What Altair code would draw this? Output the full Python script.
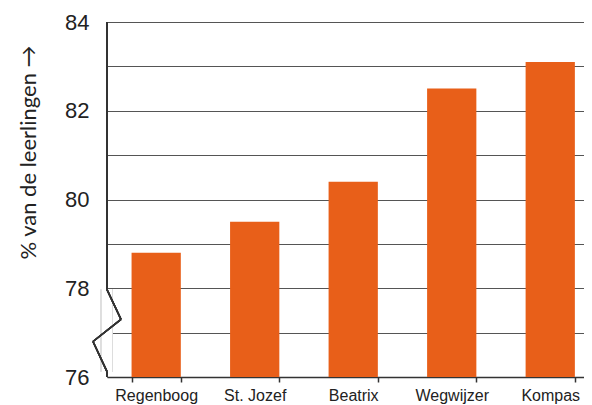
import altair as alt
import pandas as pd

schools = ["Regenboog", "St. Jozef", "Beatrix", "Wegwijzer", "Kompas"]
percentages = [78.8, 79.5, 80.4, 82.5, 83.1]
y_ticks = [76, 77, 78, 79, 80, 81, 82, 83, 84]

df = pd.DataFrame({"school": schools, "pct": percentages})

ORANGE = "#E85F19"
DARK = "#333333"

yscale = alt.Scale(domain=[76, 84], nice=False, zero=False)
xscale = alt.Scale(paddingInner=0.5, paddingOuter=0.171, align=0.729)

bars = alt.Chart(df).mark_bar(color=ORANGE, clip=True).encode(
    x=alt.X("school:N", sort=schools, scale=xscale,
            axis=alt.Axis(title=None, labelAngle=0, labelFont="Liberation Sans",
                          labelFontSize=16, labelColor="#222222", labelPadding=5,
                          domainColor=DARK, domainWidth=1.5, tickColor=DARK,
                          tickWidth=1.5, tickSize=5, tickBand="extent", grid=False)),
    y=alt.Y("pct:Q", scale=yscale,
            axis=alt.Axis(values=y_ticks, domain=False, ticks=False,
                          labelExpr="datum.value % 2 == 0 ? datum.label : ''",
                          labelFont="Liberation Sans", labelFontSize=22,
                          labelColor="#222222", labelPadding=18,
                          grid=True, gridColor="#555555", gridWidth=1,
                          title="% van de leerlingen \u2192", titleFont="Lato",
                          titleFontSize=22, titleFontWeight="normal",
                          titleColor="#222222", titleX=-79, titleY=130,
                          titleAngle=270, titleAlign="center",
                          titleBaseline="middle")),
)

base = alt.Chart(df)

# white mask over the broken part of the axis
mask = base.mark_rect(color="white").encode(
    x=alt.value(-6), x2=alt.value(5.5),
    y=alt.datum(77.97), y2=alt.datum(76.12),
)
mask_edges = [
    base.mark_rule(color="#dddddd", strokeWidth=1).encode(
        x=alt.value(xv), y=alt.datum(77.97), y2=alt.datum(76.12))
    for xv in (-6, 5.5)
]

# axis line pieces
axis_top = base.mark_rule(color=DARK, strokeWidth=1.5).encode(
    x=alt.value(0), y=alt.datum(84), y2=alt.datum(77.97))
axis_bottom = base.mark_rule(color=DARK, strokeWidth=1.5).encode(
    x=alt.value(0), y=alt.datum(76.12), y2=alt.datum(76))

# zigzag break symbol
zig_pts = [(0, 77.97), (14, 77.3), (-14, 76.8), (0, 76.12)]
zig = [
    base.mark_rule(color=DARK, strokeWidth=1.5).encode(
        x=alt.value(zig_pts[i][0]), y=alt.datum(zig_pts[i][1]),
        x2=alt.value(zig_pts[i + 1][0]), y2=alt.datum(zig_pts[i + 1][1]))
    for i in range(3)
]

chart = alt.layer(bars, mask, *mask_edges, axis_top, axis_bottom, *zig).properties(
    width=477, height=355,
    padding={"left": 99, "top": 14, "right": 0, "bottom": 28},
    autosize=alt.AutoSizeParams(type="none"),
).configure_view(stroke=None).configure(background="white")

chart.save("out.html", embed_options={"renderer": "svg", "actions": False})
